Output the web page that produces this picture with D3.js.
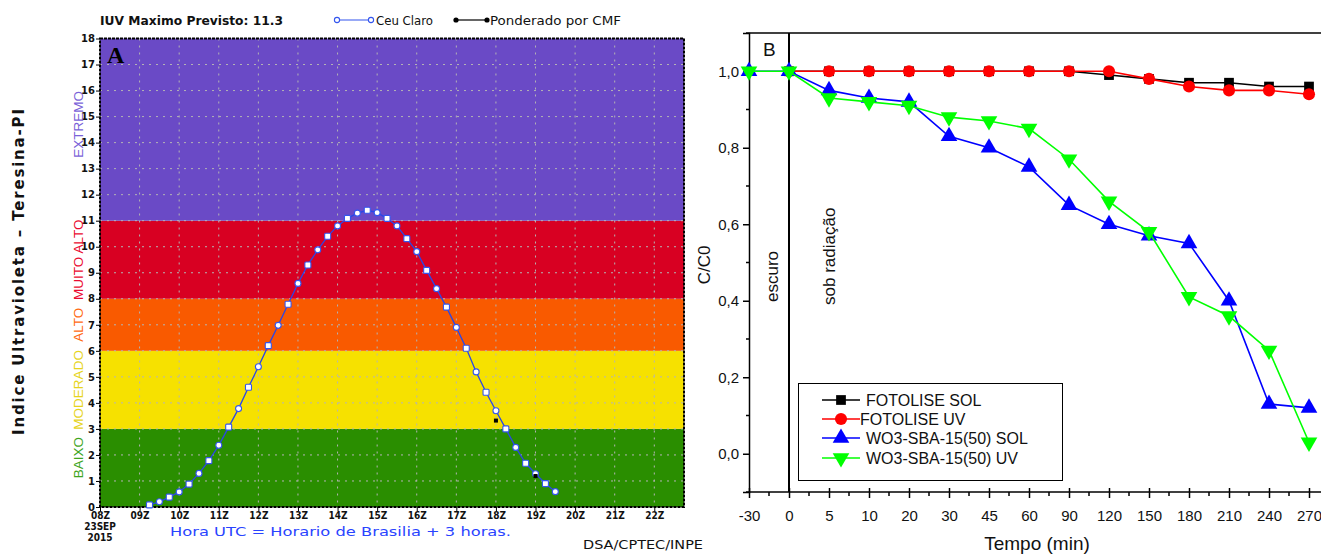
<!DOCTYPE html>
<html><head><meta charset="utf-8">
<script src="https://cdn.jsdelivr.net/npm/d3@7"></script>
<style>body{margin:0;background:#fff}svg{display:block}</style>
</head><body><svg id="c" width="1321" height="554"></svg>
<script>
// ---------- Panel A data ----------
const uvTitle = "IUV Maximo Previsto: 11.3";
const uvHours = [9.25,9.5,9.75,10,10.25,10.5,10.75,11,11.25,11.5,11.75,12,12.25,12.5,12.75,13,13.25,13.5,13.75,14,14.25,14.5,14.75,15,15.25,15.5,15.75,16,16.25,16.5,16.75,17,17.25,17.5,17.75,18,18.25,18.5,18.75,19,19.25,19.5];
const uvClear = [0.08,0.20,0.38,0.58,0.88,1.29,1.78,2.37,3.07,3.78,4.60,5.39,6.20,6.98,7.79,8.59,9.30,9.88,10.40,10.80,11.09,11.29,11.40,11.31,11.09,10.80,10.31,9.81,9.09,8.39,7.68,6.90,6.10,5.19,4.41,3.70,3.00,2.29,1.68,1.28,0.90,0.59];
const uvWeightedHours = [18.0, 19.0];
const uvWeighted = [3.32, 1.19];
const uvYTicks = [0,1,2,3,4,5,6,7,8,9,10,11,12,13,14,15,16,17,18];
const hourTicks = [8,9,10,11,12,13,14,15,16,17,18,19,20,21,22];
const hourLabels = ["08Z","09Z","10Z","11Z","12Z","13Z","14Z","15Z","16Z","17Z","18Z","19Z","20Z","21Z","22Z"];
const bandLow = [0,3,6,8,11];
const bandHigh = [3,6,8,11,18];
const bandNames = ["BAIXO","MODERADO","ALTO","MUITO ALTO","EXTREMO"];
const bandColors = ["#2a8e00","#f6e100","#f95a00","#d80022","#6a4ac6"];
const bandTextColors = ["#3ea51e","#e6d41c","#ff6a10","#ea0a30","#7a62d8"];

// ---------- Panel B data ----------
const times = ["-30","0","5","10","20","30","45","60","90","120","150","180","210","240","270"];
const fotoliseSol = [null,1.00,1.00,1.00,1.00,1.00,1.00,1.00,1.00,0.99,0.98,0.97,0.97,0.96,0.96];
const fotoliseUV  = [null,1.00,1.00,1.00,1.00,1.00,1.00,1.00,1.00,1.00,0.98,0.96,0.95,0.95,0.94];
const wo3Sol = [1.00,1.00,0.95,0.93,0.92,0.83,0.80,0.75,0.65,0.60,0.57,0.55,0.40,0.13,0.12];
const wo3UV  = [1.00,1.00,0.93,0.92,0.91,0.88,0.87,0.85,0.77,0.66,0.58,0.41,0.36,0.27,0.03];
const yTicksB = [0,0.2,0.4,0.6,0.8,1.0];
const yMinorB = [-0.1,0.1,0.3,0.5,0.7,0.9,1.1];
const seriesNames = ["FOTOLISE SOL","FOTOLISE UV","WO3-SBA-15(50) SOL","WO3-SBA-15(50) UV"];

const svg = d3.select("#c");
svg.append("rect").attr("width",1321).attr("height",554).attr("fill","#fff");

// ================= PANEL A =================
const xA = d3.scaleLinear().domain([8, 22.75]).range([100, 684]);
const yA = d3.scaleLinear().domain([0, 18]).range([507, 38.5]);
const gA = svg.append("g");

gA.selectAll("rect.band").data(bandNames).join("rect")
  .attr("x", xA(8)).attr("width", xA(22.75)-xA(8))
  .attr("y", (d,i)=>yA(bandHigh[i])).attr("height",(d,i)=>yA(bandLow[i])-yA(bandHigh[i]))
  .attr("fill",(d,i)=>bandColors[i]);

// grid
gA.selectAll("line.vg").data(hourTicks.slice(1)).join("line")
  .attr("x1",d=>xA(d)).attr("x2",d=>xA(d)).attr("y1",yA(18)).attr("y2",yA(0))
  .attr("stroke","#b4b4b4").attr("stroke-width",1).attr("stroke-dasharray","2,5");
gA.selectAll("line.hg").data(uvYTicks.slice(1,-1)).join("line")
  .attr("x1",xA(8)).attr("x2",xA(22.75)).attr("y1",d=>yA(d)).attr("y2",d=>yA(d))
  .attr("stroke","#b4b4b4").attr("stroke-width",1).attr("stroke-dasharray","2,5");

// border
gA.append("rect").attr("x",xA(8)).attr("y",yA(18)).attr("width",xA(22.75)-xA(8)).attr("height",yA(0)-yA(18))
  .attr("fill","none").attr("stroke","#000").attr("stroke-width",2).attr("stroke-dasharray","3,1");

// y axis
const axYA = d3.axisLeft(yA).tickValues(uvYTicks).tickSize(4).tickPadding(1).tickFormat(d3.format("d"));
gA.append("g").attr("transform",`translate(${xA(8)},0)`).call(axYA)
  .call(g=>{g.select(".domain").remove();
    g.selectAll("text").attr("font-family","DejaVu Sans").attr("font-size",10).attr("font-weight","bold").attr("fill","#111");});

// x axis
const axXA = d3.axisBottom(xA).tickValues(hourTicks).tickSize(4).tickPadding(1).tickFormat((d,i)=>hourLabels[i]);
gA.append("g").attr("transform",`translate(0,${yA(0)})`).call(axXA)
  .call(g=>{g.select(".domain").remove();
    g.selectAll("text").attr("font-family","DejaVu Sans Condensed, DejaVu Sans").attr("font-size",10).attr("font-weight","bold").attr("fill","#111");});
gA.append("text").attr("x",xA(8)).attr("y",530).attr("text-anchor","middle")
  .attr("font-family","DejaVu Sans Condensed, DejaVu Sans").attr("font-size",10).attr("font-weight","bold").attr("fill","#111").text("23SEP");
gA.append("text").attr("x",xA(8)).attr("y",541).attr("text-anchor","middle")
  .attr("font-family","DejaVu Sans Condensed, DejaVu Sans").attr("font-size",10).attr("font-weight","bold").attr("fill","#111").text("2015");

// band labels
gA.selectAll("text.bl").data(bandNames).join("text")
  .attr("transform",(d,i)=>`translate(83,${yA((bandLow[i]+bandHigh[i])/2 + (i===0?0.4:(i===4?0.2:0)))}) rotate(-90)`)
  .attr("text-anchor","middle").attr("font-family","Liberation Sans").attr("font-size",13.5)
  .attr("fill",(d,i)=>bandTextColors[i]).text(d=>d);

// y title
gA.append("text").attr("transform",`translate(24,${272}) rotate(-90)`).attr("text-anchor","middle")
  .attr("font-family","DejaVu Sans").attr("font-size",15).attr("font-weight","bold").attr("fill","#111")
  .attr("textLength",326).attr("lengthAdjust","spacing")
  .text("Indice Ultravioleta  –  Teresina-PI");

// curve
const uvPts = uvHours.map((h,i)=>({h, v: uvClear[i]}));
gA.append("path").datum(uvPts)
  .attr("d", d3.line().x(d=>xA(d.h)).y(d=>yA(d.v)))
  .attr("fill","none").attr("stroke","#2b46e6").attr("stroke-width",1.3);
gA.selectAll("rect.pt").data(uvPts).join("rect")
  .attr("x",d=>xA(d.h)-3).attr("y",d=>yA(d.v)-3).attr("width",6).attr("height",6).attr("rx",(d,i)=>i%2?3:1)
  .attr("fill","#fff").attr("stroke","#3355ee").attr("stroke-width",1.1);
gA.selectAll("rect.wp").data(uvWeightedHours).join("rect")
  .attr("x",d=>xA(d)-2).attr("y",(d,i)=>yA(uvWeighted[i])-2).attr("width",4).attr("height",4).attr("fill","#000");

// "A"
gA.append("text").attr("x",107).attr("y",63).attr("font-family","Liberation Serif").attr("font-weight","bold")
  .attr("font-size",24).attr("fill","#000").text("A");

// title + legend
gA.append("text").attr("x",100).attr("y",25).attr("font-family","DejaVu Sans").attr("font-weight","bold")
  .attr("font-size",13).attr("fill","#111").attr("textLength",183).attr("lengthAdjust","spacingAndGlyphs").text(uvTitle);
gA.append("line").attr("x1",337).attr("x2",371).attr("y1",20).attr("y2",20).attr("stroke","#3355ee").attr("stroke-width",1.2);
gA.selectAll("circle.lg").data([337,371]).join("circle").attr("cx",d=>d).attr("cy",20).attr("r",2.6)
  .attr("fill","#fff").attr("stroke","#3355ee").attr("stroke-width",1.1);
gA.append("text").attr("x",376).attr("y",25).attr("font-family","DejaVu Sans").attr("font-size",12)
  .attr("fill","#111").attr("textLength",57).attr("lengthAdjust","spacingAndGlyphs").text("Ceu Claro");
gA.append("line").attr("x1",456).attr("x2",487).attr("y1",20).attr("y2",20).attr("stroke","#000").attr("stroke-width",1.2);
gA.selectAll("circle.lg2").data([456,487]).join("circle").attr("cx",d=>d).attr("cy",20).attr("r",2.6).attr("fill","#000");
gA.append("text").attr("x",490).attr("y",25).attr("font-family","DejaVu Sans").attr("font-size",12)
  .attr("fill","#111").attr("textLength",131).attr("lengthAdjust","spacingAndGlyphs").text("Ponderado por CMF");

gA.append("text").attr("x",170).attr("y",536).attr("font-family","DejaVu Sans").attr("font-size",13)
  .attr("fill","#2a44ff").attr("textLength",341).attr("lengthAdjust","spacingAndGlyphs").text("Hora UTC = Horario de Brasilia + 3 horas.");
gA.append("text").attr("x",583).attr("y",549).attr("font-family","DejaVu Sans").attr("font-size",12)
  .attr("fill","#111").attr("textLength",120).attr("lengthAdjust","spacingAndGlyphs").text("DSA/CPTEC/INPE");

// ================= PANEL B =================
const xB = d3.scalePoint().domain(times).range([749, 1309]);
const yB = d3.scaleLinear().domain([-0.1, 1.1]).range([492, 33]);
const gB = svg.append("g");
const fB = "Liberation Sans, Arial, sans-serif";

// frame
gB.append("line").attr("x1",749).attr("x2",1321).attr("y1",33).attr("y2",33).attr("stroke","#000").attr("stroke-width",1.5);
gB.append("line").attr("x1",xB("0")).attr("x2",xB("0")).attr("y1",33).attr("y2",492).attr("stroke","#000").attr("stroke-width",2);

// y axis
const axYB = d3.axisLeft(yB).tickValues(yTicksB).tickSize(6).tickPadding(4)
  .tickFormat(d=>d3.format(".1f")(d).replace(".",","));
gB.append("g").attr("transform","translate(749,0)").call(axYB)
  .call(g=>{g.select(".domain").attr("stroke-width",1.5);
    g.selectAll(".tick line").attr("stroke-width",1.5);
    g.selectAll("text").attr("font-family",fB).attr("font-size",15).attr("fill","#111");});
gB.selectAll("line.ymin").data(yMinorB).join("line")
  .attr("x1",746).attr("x2",749).attr("y1",d=>yB(d)).attr("y2",d=>yB(d)).attr("stroke","#000").attr("stroke-width",1.5);

// x axis
const axXB = d3.axisBottom(xB).tickSize(6).tickPadding(12);
gB.append("g").attr("transform","translate(0,492)").call(axXB)
  .call(g=>{g.select(".domain").attr("d","M749,0H1321").attr("stroke-width",1.5);
    g.selectAll(".tick line").attr("y1",-4).attr("stroke-width",1.5);
    g.selectAll("text").attr("font-family",fB).attr("font-size",15).attr("fill","#111");});
const minorX = times.slice(1).map((t,i)=>(xB(times[i])+xB(t))/2);
gB.selectAll("line.xmin").data(minorX.concat([xB("270")+xB.step()/2])).join("line")
  .attr("x1",d=>d).attr("x2",d=>d).attr("y1",492).attr("y2",496).attr("stroke","#000").attr("stroke-width",1.5);

// labels
gB.append("text").attr("x",1037).attr("y",550).attr("text-anchor","middle").attr("font-family",fB).attr("font-size",19).attr("fill","#111").text("Tempo (min)");
gB.append("text").attr("transform","translate(710,265) rotate(-90)").attr("text-anchor","middle").attr("font-family",fB).attr("font-size",17).attr("fill","#111").text("C/C0");
gB.append("text").attr("transform","translate(778,302) rotate(-90)").attr("text-anchor","start").attr("font-family",fB).attr("font-size",17).attr("fill","#111").text("escuro");
gB.append("text").attr("transform","translate(835,305) rotate(-90)").attr("text-anchor","start").attr("font-family",fB).attr("font-size",17).attr("fill","#111").text("sob radiação");
gB.append("text").attr("x",763).attr("y",56).attr("font-family",fB).attr("font-size",19).attr("fill","#111").text("B");

// series
const seriesVals = [fotoliseSol, fotoliseUV, wo3Sol, wo3UV];
const seriesColors = ["#000000","#ff0000","#0000ff","#00ff00"];
const sym = [d3.symbolSquare, d3.symbolCircle, d3.symbolTriangle, d3.symbolTriangle];
const symSize = [95, 115, 120, 120];
const symRot = [0,0,0,180];
const lineB = d3.line().defined(d=>d.v!=null).x(d=>xB(d.t)).y(d=>yB(d.v));
seriesVals.forEach((vals,si)=>{
  const pts = times.map((t,i)=>({t, v: vals[i]}));
  gB.append("path").datum(pts).attr("d",lineB).attr("fill","none").attr("stroke",seriesColors[si]).attr("stroke-width",1.6);
  gB.selectAll(null).data(pts.filter(d=>d.v!=null)).join("path")
    .attr("transform",d=>`translate(${xB(d.t)},${yB(d.v)}) rotate(${symRot[si]})`)
    .attr("d",d3.symbol(sym[si]).size(symSize[si])).attr("fill",seriesColors[si]);
});

// legend
gB.append("rect").attr("x",798.5).attr("y",383.5).attr("width",264).attr("height",97).attr("fill","#fff").attr("stroke","#000").attr("stroke-width",1);
const legY = [400, 419, 438, 458];
const legTx = [866, 860, 866, 866];
seriesNames.forEach((n,si)=>{
  gB.append("line").attr("x1",822).attr("x2",860).attr("y1",legY[si]).attr("y2",legY[si]).attr("stroke",seriesColors[si]).attr("stroke-width",1.6);
  gB.append("path").attr("transform",`translate(841,${legY[si]}) rotate(${symRot[si]})`)
    .attr("d",d3.symbol(sym[si]).size(symSize[si])).attr("fill",seriesColors[si]);
  gB.append("text").attr("x",legTx[si]).attr("y",legY[si]+6).attr("font-family",fB).attr("font-size",16).attr("fill","#111").text(n);
});
</script></body></html>
